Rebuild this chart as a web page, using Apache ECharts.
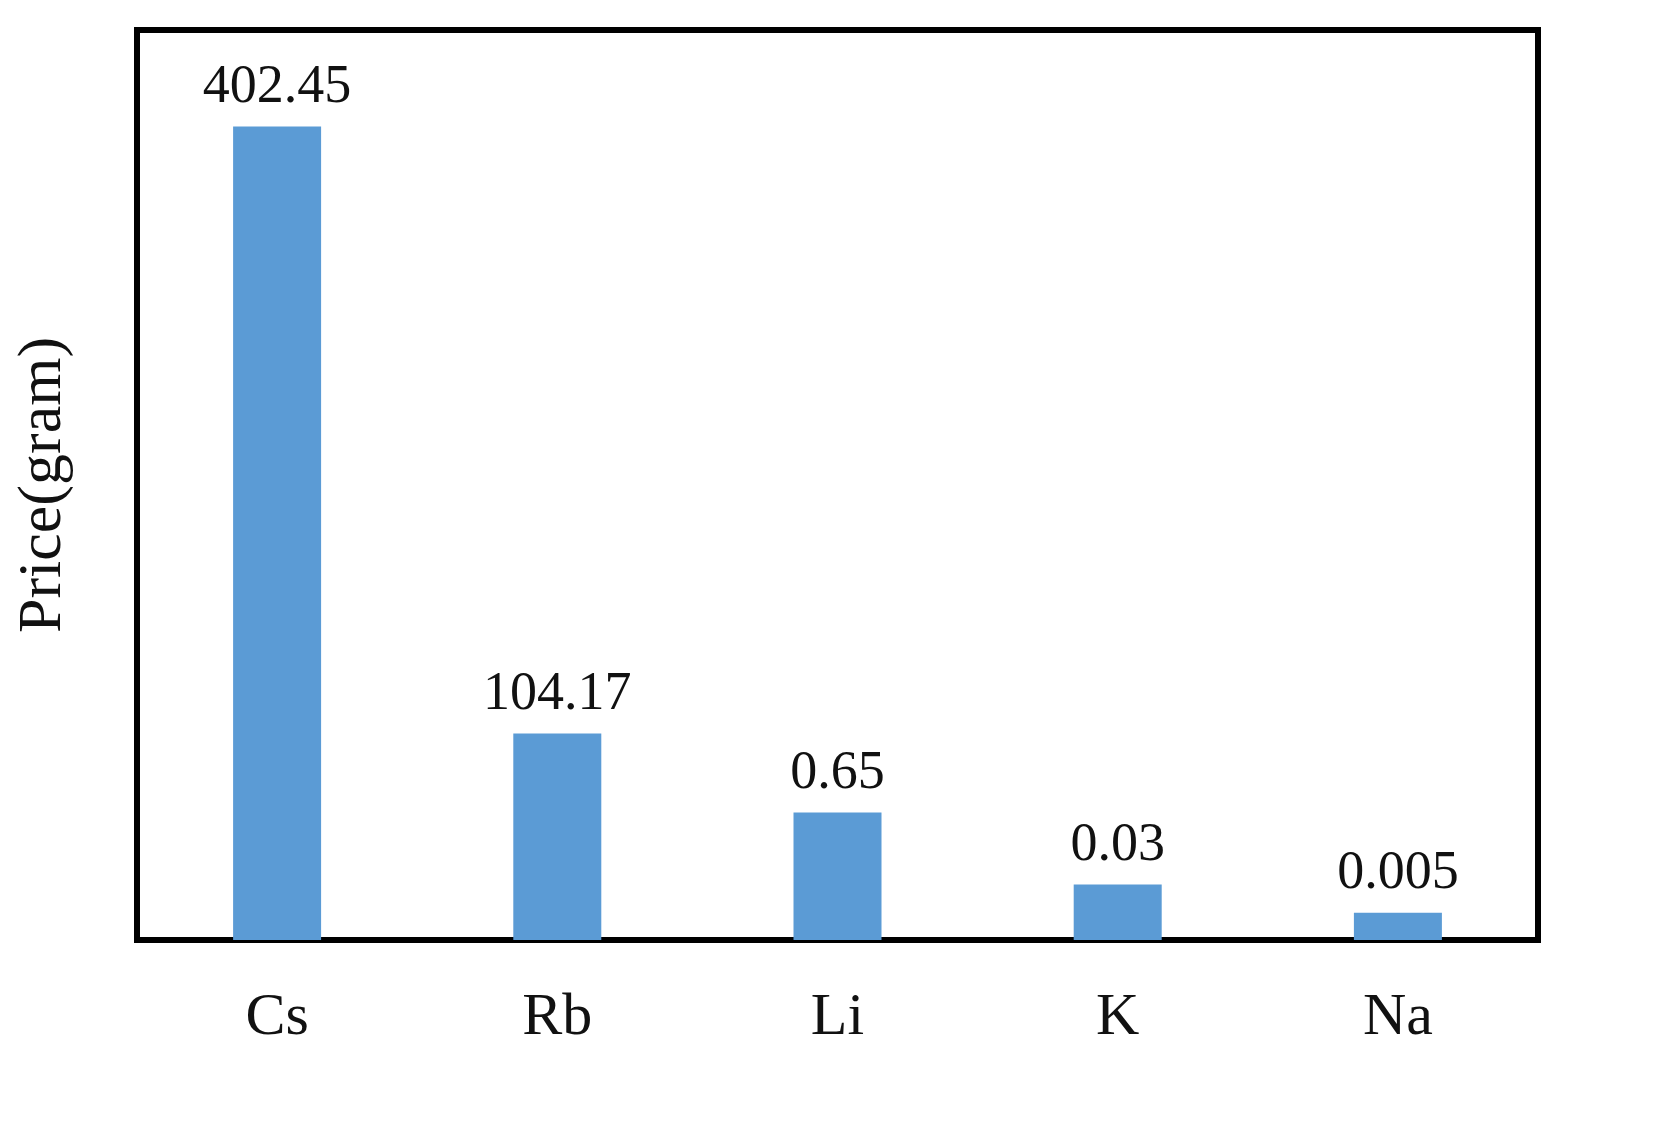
<!DOCTYPE html>
<html><head><meta charset="utf-8">
<script src="https://cdn.jsdelivr.net/npm/echarts@6/dist/echarts.min.js"></script>
<style>html,body{margin:0;padding:0;background:#fff}#c{width:1661px;height:1124px}</style>
</head><body><div id="c"></div>
<script>
const categories = ['Cs','Rb','Li','K','Na'];
// Bar heights as drawn (the original uses a non-proportional visual scale), in % of plot height
const barHeights = [89.4, 22.7, 14.0, 6.1, 3.0];
// Value labels printed above bars
const valueLabels = ['402.45','104.17','0.65','0.03','0.005'];
const font = 'Liberation Serif, Times New Roman, serif';
const chart = echarts.init(document.getElementById('c'));
chart.setOption({
  animation:false,
  grid:{left:137,right:123,top:30,bottom:184,show:true,borderColor:'#000',borderWidth:6,backgroundColor:'transparent'},
  xAxis:{type:'category',data:categories,axisTick:{show:false},
    axisLine:{lineStyle:{color:'#000',width:6}},
    axisLabel:{color:'#111',fontFamily:font,fontSize:60,margin:48}},
  yAxis:{type:'value',min:0,max:100,splitLine:{show:false},axisLabel:{show:false},axisTick:{show:false},axisLine:{show:false},
    name:'Price(gram)',nameLocation:'middle',nameGap:62,nameRotate:90,
    nameTextStyle:{color:'#111',fontFamily:font,fontSize:62}},
  series:[{type:'bar',data:barHeights,barWidth:88,itemStyle:{color:'#5b9bd5'},
    label:{show:true,position:'top',distance:12,color:'#111',fontFamily:font,fontSize:54,
      formatter:p=>valueLabels[p.dataIndex]}}]
});
</script></body></html>
